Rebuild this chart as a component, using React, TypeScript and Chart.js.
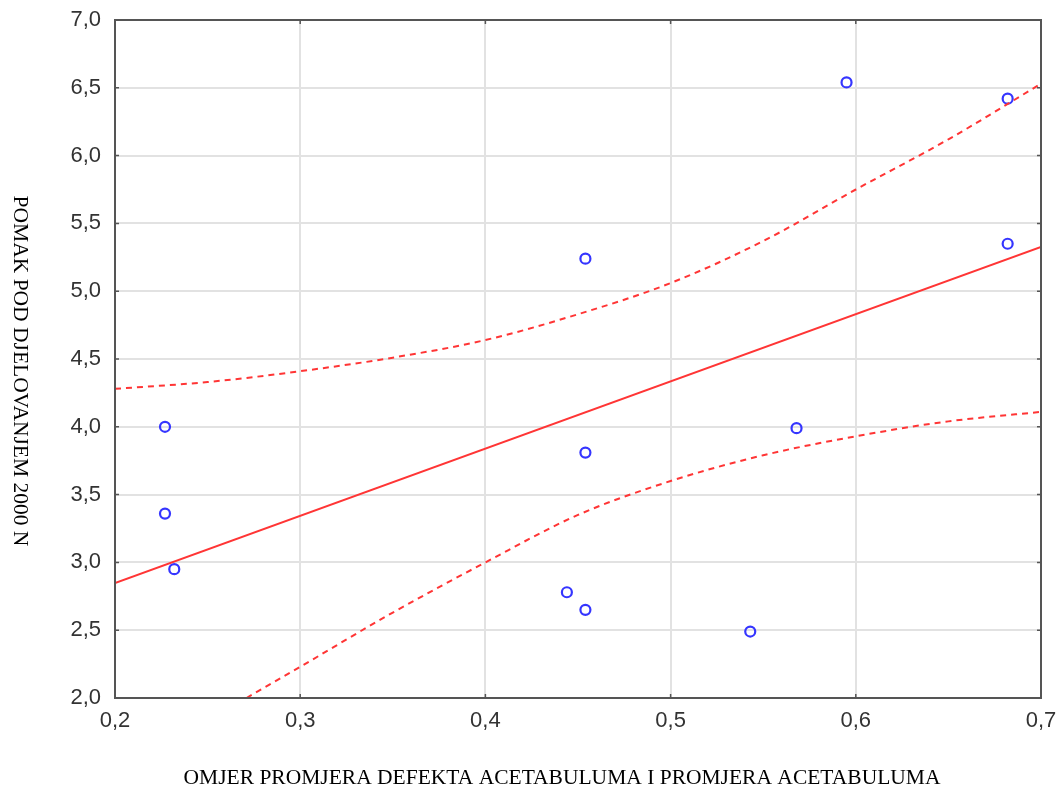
import { useEffect, useRef } from "react";
import { Chart, registerables } from "chart.js";

Chart.register(...registerables);

// Observed data points
const pointX = [0.227, 0.227, 0.232, 0.454, 0.454, 0.444, 0.454, 0.543, 0.568, 0.595, 0.682, 0.682];
const pointY = [4.0, 3.36, 2.95, 5.24, 3.81, 2.78, 2.65, 2.49, 3.99, 6.54, 6.42, 5.35];

// Regression line
const fitX = [0.2, 0.7];
const fitY = [2.848, 5.326];

// Confidence band (upper / lower)
const upperX = [0.2, 0.25, 0.3, 0.35, 0.4, 0.45, 0.5, 0.55, 0.6, 0.65, 0.7];
const upperY = [4.28, 4.33, 4.41, 4.51, 4.64, 4.83, 5.06, 5.37, 5.75, 6.12, 6.53];
const lowerX = [0.271, 0.3, 0.35, 0.4, 0.45, 0.5, 0.55, 0.6, 0.65, 0.7];
const lowerY = [2.0, 2.23, 2.63, 3.0, 3.35, 3.6, 3.79, 3.93, 4.04, 4.11];

// Tick values
const xTickValues = [0.2, 0.3, 0.4, 0.5, 0.6, 0.7];
const yTickValues = [2.0, 2.5, 3.0, 3.5, 4.0, 4.5, 5.0, 5.5, 6.0, 6.5, 7.0];

const xTitle = "OMJER PROMJERA DEFEKTA ACETABULUMA I PROMJERA ACETABULUMA";
const yTitle = "POMAK POD DJELOVANJEM 2000 N";

const zip = (xs: number[], ys: number[]) => xs.map((x, i) => ({ x, y: ys[i] }));
const fmt = (v: number) => Number(v).toFixed(1).replace(".", ",");

const framePlugin = {
  id: "frame",
  afterDraw(chart: any) {
    const { ctx, chartArea: a, scales } = chart;
    ctx.save();
    ctx.strokeStyle = "#555555";
    ctx.lineWidth = 2;
    ctx.strokeRect(a.left, a.top, a.right - a.left, a.bottom - a.top);
    ctx.lineWidth = 1.5;
    const tl = 4;
    ctx.beginPath();
    for (const v of xTickValues) {
      const px = scales.x.getPixelForValue(v);
      ctx.moveTo(px, a.bottom);
      ctx.lineTo(px, a.bottom - tl);
      ctx.moveTo(px, a.top);
      ctx.lineTo(px, a.top + tl);
    }
    for (const v of yTickValues) {
      const py = scales.y.getPixelForValue(v);
      ctx.moveTo(a.left, py);
      ctx.lineTo(a.left + tl, py);
      ctx.moveTo(a.right, py);
      ctx.lineTo(a.right - tl, py);
    }
    ctx.stroke();

    ctx.fillStyle = "#000000";
    ctx.font = '21.5px "Liberation Serif"';
    ctx.textAlign = "center";
    ctx.textBaseline = "middle";
    ctx.fillText(xTitle, 562, 778);
    ctx.translate(20, 371);
    ctx.rotate(Math.PI / 2);
    ctx.fillText(yTitle, 0, 0);
    ctx.restore();
  },
};

export default function App() {
  const ref = useRef<HTMLCanvasElement | null>(null);

  useEffect(() => {
    if (!ref.current) return;
    const red = "#ff3535";
    const chart = new Chart(ref.current, {
      type: "scatter",
      data: {
        datasets: [
          {
            data: zip(upperX, upperY),
            showLine: true,
            borderColor: red,
            borderWidth: 2,
            borderDash: [6, 5],
            pointRadius: 0,
            cubicInterpolationMode: "monotone",
          },
          {
            data: zip(lowerX, lowerY),
            showLine: true,
            borderColor: red,
            borderWidth: 2,
            borderDash: [6, 5],
            pointRadius: 0,
            cubicInterpolationMode: "monotone",
          },
          {
            data: zip(fitX, fitY),
            showLine: true,
            borderColor: red,
            borderWidth: 2,
            pointRadius: 0,
          },
          {
            data: zip(pointX, pointY),
            showLine: false,
            pointStyle: "circle",
            pointRadius: 5,
            pointBorderWidth: 2.2,
            pointBorderColor: "#3535ff",
            pointBackgroundColor: "rgba(0,0,0,0)",
          },
        ],
      } as any,
      options: {
        animation: false,
        responsive: false,
        layout: { padding: { left: 0, top: 20, right: 19, bottom: 0 } },
        plugins: { legend: { display: false }, tooltip: { enabled: false } },
        scales: {
          x: {
            type: "linear",
            min: 0.2,
            max: 0.7,
            afterBuildTicks: (s: any) => {
              s.ticks = xTickValues.map((v) => ({ value: v }));
            },
            afterFit: (s: any) => {
              s.height = 94;
              s.paddingLeft = 0;
              s.paddingRight = 0;
            },
            grid: { color: "#e2e2e2", lineWidth: 2, drawTicks: false },
            border: { display: false },
            ticks: {
              padding: 10,
              color: "#333333",
              font: { family: '"Liberation Sans", Arial, sans-serif', size: 22 },
              callback: (v: any) => fmt(v),
            },
          },
          y: {
            type: "linear",
            min: 2,
            max: 7,
            afterBuildTicks: (s: any) => {
              s.ticks = yTickValues.map((v) => ({ value: v }));
            },
            afterFit: (s: any) => {
              s.width = 115;
              s.paddingTop = 0;
              s.paddingBottom = 0;
            },
            grid: { color: "#e2e2e2", lineWidth: 2, drawTicks: false },
            border: { display: false },
            ticks: {
              padding: 14,
              color: "#333333",
              font: { family: '"Liberation Sans", Arial, sans-serif', size: 22 },
              callback: (v: any) => fmt(v),
            },
          },
        },
      } as any,
      plugins: [framePlugin],
    });
    return () => chart.destroy();
  }, []);

  return (
    <div style={{ position: "absolute", left: 0, top: 0, width: 1060, height: 792, background: "#ffffff" }}>
      <canvas ref={ref} width={1060} height={792} style={{ display: "block" }} />
    </div>
  );
}
